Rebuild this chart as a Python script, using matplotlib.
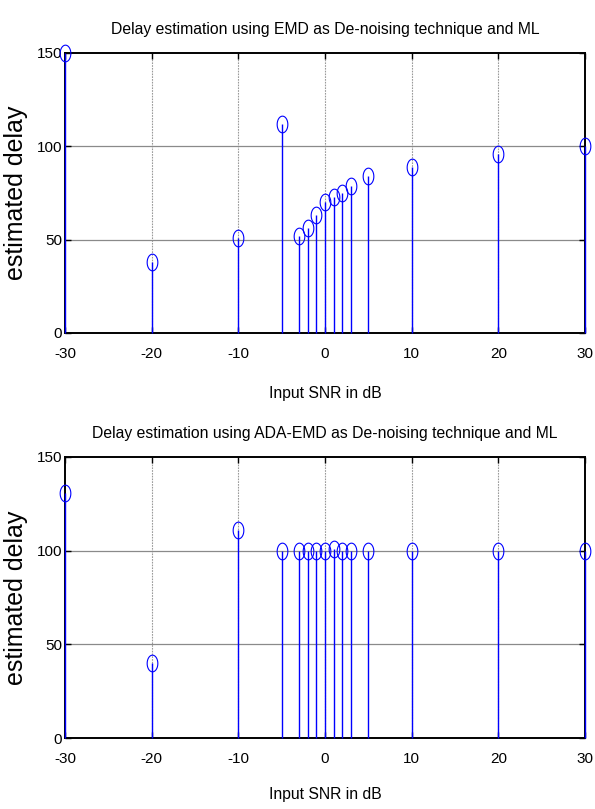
import matplotlib
matplotlib.use('Agg')
import matplotlib.pyplot as plt
import numpy as np
from matplotlib.path import Path

plt.rcParams['axes.unicode_minus'] = False

# ---- data ----
snr = [-30, -20, -10, -5, -3, -2, -1, 0, 1, 2, 3, 5, 10, 20, 30]
delay_emd = [150, 38, 51, 112, 52, 56, 63, 70, 73, 75, 79, 84, 89, 96, 100]
delay_ada = [131, 40, 111, 100, 100, 100, 100, 100, 101, 100, 100, 100, 100, 100, 100]
xtick_vals = [-30, -20, -10, 0, 10, 20, 30]
ytick_vals = [0, 50, 100, 150]
titles = ["Delay estimation using EMD as De-noising technique and ML",
          "Delay estimation using ADA-EMD as De-noising technique and ML"]
xlabel_text = "Input SNR in dB"
ylabel_text = "estimated delay"

fam = ['Liberation Sans', 'DejaVu Sans']

# ellipse marker (image is horizontally squeezed)
t = np.linspace(0, 2 * np.pi, 80)
ell = Path(np.column_stack([0.64 * np.cos(t), np.sin(t)]), closed=True)

fig = plt.figure(figsize=(5.95, 8.09), dpi=100)
W, H = 595.0, 809.0
boxes = [(65, 53, 585, 333), (65, 457, 585, 738)]
series = [delay_emd, delay_ada]
xlab_y = [-0.19, -0.175]

for i, (box, vals) in enumerate(zip(boxes, series)):
    l, tp, r, b = box
    ax = fig.add_axes([l / W, 1 - b / H, (r - l) / W, (b - tp) / H])
    ax.set_xlim(-30, 30)
    ax.set_ylim(0, 150)
    # grid
    for xv in xtick_vals[1:-1]:
        ax.axvline(xv, color='#9a9a9a', lw=0.8, ls=(0, (1.5, 1)), zorder=1)
    for yv in ytick_vals[1:-1]:
        ax.axhline(yv, color='#8a8a8a', lw=0.9, zorder=1)
    ml, sl, bl = ax.stem(snr, vals, basefmt=' ')
    sl.set_color('#0000ff')
    sl.set_linewidth(1.0)
    sl.set_zorder(3)
    sl.set_clip_on(False)
    ml.set_marker(ell)
    ml.set_markersize(12)
    ml.set_markerfacecolor('none')
    ml.set_markeredgecolor('#0000ff')
    ml.set_markeredgewidth(0.8)
    ml.set_zorder(4)
    ml.set_clip_on(False)

    ax.set_xticks(xtick_vals)
    ax.set_yticks(ytick_vals)
    ax.tick_params(direction='in', length=4, width=1, top=True, right=True,
                   colors='black')
    ax.tick_params(axis='x', pad=10)
    ax.tick_params(axis='y', pad=2)
    for lab in ax.get_xticklabels() + ax.get_yticklabels():
        lab.set_fontfamily(fam)
        lab.set_fontsize(11)
    for sp in ax.spines.values():
        sp.set_linewidth(1.4)
        sp.set_color('black')

    ax.set_title(titles[i], fontfamily=fam, fontsize=11.3, pad=14)
    ax.set_xlabel(xlabel_text, fontfamily=fam, fontsize=11.3)
    ax.xaxis.set_label_coords(0.5, xlab_y[i])
    ax.set_ylabel(ylabel_text, fontfamily=fam, fontsize=18)
    ax.yaxis.set_label_coords(-0.072, 0.5)

fig.savefig('out.png', dpi=100)
